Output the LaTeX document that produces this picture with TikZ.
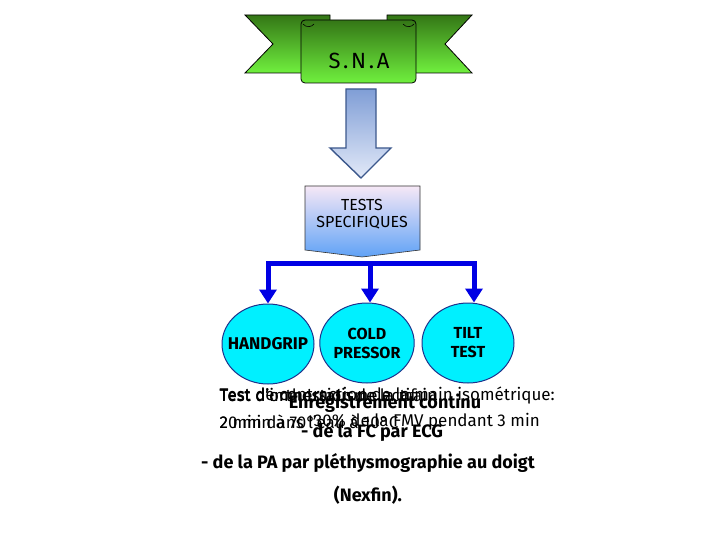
\documentclass[tikz,border=0pt]{standalone}
\usepackage{fontspec}
\setmainfont{Fira Sans}
\usetikzlibrary{shapes.geometric,arrows.meta}
\definecolor{bannerTop}{RGB}{52,118,22}
\definecolor{bannerBot}{RGB}{112,240,62}
\definecolor{arrTop}{RGB}{128,158,214}
\definecolor{arrBot}{RGB}{226,233,248}
\definecolor{arrBorder}{RGB}{60,88,140}
\definecolor{boxTop}{RGB}{246,232,246}
\definecolor{boxBot}{RGB}{96,162,246}
\definecolor{connBlue}{RGB}{0,0,228}
\definecolor{ellFill}{RGB}{0,240,255}
\definecolor{ellBorder}{RGB}{30,50,140}
\tikzset{
  ribbon/.style={draw=black, line width=0.8pt, top color=bannerTop, bottom color=bannerBot},
  blockarrow/.style={draw=arrBorder, line width=1.4pt, top color=arrTop, bottom color=arrBot},
  testbox/.style={draw=black!80, line width=0.6pt, top color=boxTop, bottom color=boxBot},
  conn/.style={line width=5pt, color=connBlue, line join=miter, -{Triangle[width=17pt,length=14pt]}},
  testell/.style={ellipse, draw=ellBorder, line width=1pt, fill=ellFill, minimum width=92pt, minimum height=80pt, inner sep=0pt, align=center, font=\fontsize{16}{19}\selectfont\bfseries},
  reg/.style={inner sep=0pt, font=\fontsize{17}{19}\selectfont},
  bld/.style={inner sep=0pt, font=\fontsize{18}{20}\selectfont\bfseries}
}
\begin{document}
\begin{tikzpicture}[x=1pt,y=-1pt]
\useasboundingbox (0,0) rectangle (720,540);
% banner
\path[ribbon] (245,15) -- (330,15) -- (330,73) -- (245,73) -- (273,44) -- cycle;
\path[ribbon] (472,15) -- (387,15) -- (387,73) -- (472,73) -- (445,44) -- cycle;
\path[ribbon, rounded corners=4pt] (301,20) rectangle (416,83);
\draw[line width=0.6pt] (303,24) .. controls (306,28) and (312,27) .. (314,24);
\draw[line width=0.6pt] (403,24) .. controls (406,28) and (412,27) .. (414,24);
\node[inner sep=0pt, font=\fontsize{22}{24}\selectfont\addfontfeatures{LetterSpace=12}] (sna) at (359,61) {S.N.A};
% block arrow
\path[blockarrow] (346,89) -- (376,89) -- (376,148) -- (391,148) -- (361,178) -- (330,148) -- (346,148) -- cycle;
\coordinate (arrtip) at (361,178);
% tests box
\path[testbox] (305,186) -- (420,186) -- (420,250) -- (362,257) -- (305,250) -- cycle;
\node[inner sep=0pt, align=center, font=\fontsize{16}{17}\selectfont] (tests) at (362,214) {TESTS\\SPECIFIQUES};
% ellipses
\node[testell, inner xsep=-14pt, font=\fontsize{17}{19}\selectfont\bfseries] (hg) at (268,344) {HANDGRIP};
\node[testell] (cp) at (367,343) {COLD\\PRESSOR};
\node[testell] (tt) at (468,343) {TILT\\TEST};
\coordinate (bar) at (370,263);
\draw[conn] (bar) -| (hg.north);
\draw[conn] (bar) -| ([xshift=6pt]tt.north);
\draw[conn] (bar) -- (bar |- cp.north);
% overlapped text (as in the reference)
\node[reg, anchor=east] (l1a) at (555,395) {Test de contraction de la main isométrique:};
\node[reg, anchor=west] (l1b) at (l1a.west) {Test d'immersion de la main};
\node[reg, anchor=west] (l1c) at (l1a.west) {Test d'orthostatisme actif};
\node[reg, anchor=east] (l2a) at (540,422) {30\% de la FMV pendant 3 min};
\node[reg, anchor=west] (l2b) at (l1a.west |- l2a) {2 min dans l'eau à 10°C};
\node[reg, anchor=west] (l2c) at (l1a.west |- l2a) {20 min à 70°};
\node[bld] (enr) at (385,403) {Enregistrement continu};
\node[bld] (fc) at (372,433) {- de la FC par ECG};
\node[bld] (pa) at (368,463) {- de la PA par pléthysmographie au doigt};
\node[bld] (nex) at (368,495) {(Nexfin).};
\end{tikzpicture}
\end{document}
